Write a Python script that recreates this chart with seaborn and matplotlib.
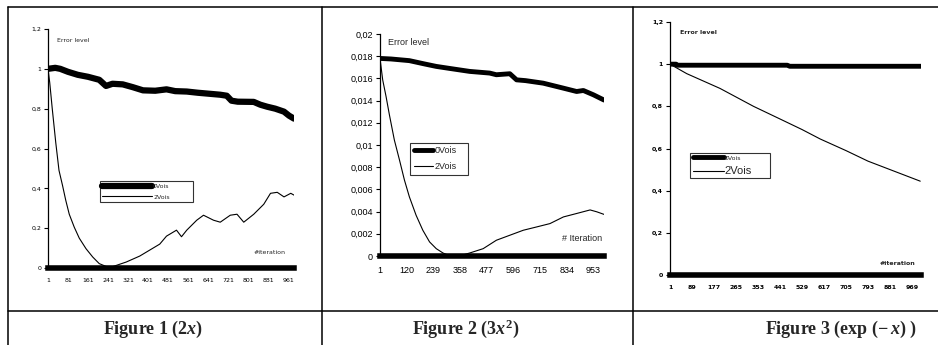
import matplotlib
matplotlib.use("Agg")
import matplotlib.pyplot as plt
import seaborn as sns
from matplotlib.lines import Line2D
from matplotlib.ticker import FuncFormatter

# ---- data ----
# Figure 1 (2x)
fig1_x_0vois = [1, 30, 50, 81, 120, 161, 206, 233, 259, 300, 340, 381, 430, 475, 510,
                556, 600, 636, 690, 716, 735, 760, 824, 850, 877, 910, 945, 965, 985]
fig1_y_0vois = [1.0, 1.005, 1.0, 0.985, 0.97, 0.96, 0.945, 0.914, 0.925, 0.922, 0.908,
                0.892, 0.89, 0.897, 0.888, 0.886, 0.88, 0.876, 0.87, 0.865, 0.84, 0.835,
                0.834, 0.82, 0.81, 0.8, 0.785, 0.765, 0.75]
fig1_x_2vois = [1, 8, 18, 32, 45, 59, 72, 86, 106, 126, 153, 180, 206, 233, 253, 274,
                314, 368, 408, 448, 475, 515, 535, 556, 596, 623, 663, 690, 730, 757,
                784, 824, 864, 891, 918, 945, 972, 985]
fig1_y_2vois = [1.0, 0.93, 0.8, 0.63, 0.49, 0.415, 0.34, 0.27, 0.205, 0.15, 0.097, 0.055,
                0.022, 0.008, 0.004, 0.013, 0.03, 0.06, 0.09, 0.12, 0.16, 0.19, 0.157,
                0.19, 0.24, 0.265, 0.24, 0.23, 0.265, 0.27, 0.23, 0.27, 0.32, 0.375,
                0.38, 0.357, 0.375, 0.366]
fig1_xticks = [1, 81, 161, 241, 321, 401, 481, 561, 641, 721, 801, 881, 961]
fig1_yticks = [0, 0.2, 0.4, 0.6, 0.8, 1.0, 1.2]

# Figure 2 (3x^2)
fig2_x_0vois = [1, 50, 132, 200, 252, 311, 401, 490, 520, 580, 610, 650, 729, 819, 878,
                908, 953, 1000]
fig2_y_0vois = [0.0178, 0.01775, 0.0176, 0.0173, 0.01708, 0.0169, 0.01663, 0.01648,
                0.01633, 0.01642, 0.01587, 0.0158, 0.01557, 0.01512, 0.01482, 0.01491,
                0.01452, 0.01405]
fig2_x_2vois = [1, 13, 28, 43, 65, 88, 110, 132, 162, 192, 222, 252, 282, 311, 341, 371,
                401, 461, 520, 580, 640, 700, 759, 819, 878, 938, 968, 1000]
fig2_y_2vois = [0.0178, 0.01587, 0.01437, 0.01271, 0.01045, 0.00864, 0.00684, 0.00533,
                0.00367, 0.00232, 0.00127, 0.00066, 0.00027, 0.00003, 0.0, 0.0001,
                0.00027, 0.00066, 0.00142, 0.00187, 0.00232, 0.00262, 0.00292, 0.00352,
                0.00383, 0.00415, 0.00398, 0.00375]
fig2_xticks = [1, 120, 239, 358, 477, 596, 715, 834, 953]
fig2_yticks = [0, 0.002, 0.004, 0.006, 0.008, 0.01, 0.012, 0.014, 0.016, 0.018, 0.02]

# Figure 3 (exp(-x))
fig3_x_0vois = [1, 25, 30, 470, 480, 1005]
fig3_y_0vois = [1.0, 1.0, 0.995, 0.995, 0.99, 0.99]
fig3_x_2vois = [1, 68, 201, 335, 441, 529, 602, 705, 793, 881, 969, 1002]
fig3_y_2vois = [1.0, 0.955, 0.885, 0.8, 0.74, 0.69, 0.645, 0.59, 0.54, 0.5, 0.46, 0.445]
fig3_xticks = [1, 89, 177, 265, 353, 441, 529, 617, 705, 793, 881, 969]
fig3_yticks = [0, 0.2, 0.4, 0.6, 0.8, 1.0, 1.2]

captions = [r"Figure 1 (2$x$)", r"Figure 2 (3$x^2$)", r"Figure 3 (exp ($-\,x$) )"]

# ---- style ----
sns.set_theme(style="white")
plt.rcParams["font.family"] = ["DejaVu Sans"]
plt.rcParams["mathtext.fontset"] = "custom"
plt.rcParams["mathtext.rm"] = "Liberation Serif:bold"
plt.rcParams["mathtext.it"] = "Liberation Serif:bold:italic"
plt.rcParams["mathtext.bf"] = "Liberation Serif:bold"

W, H = 938, 345
fig = plt.figure(figsize=(W / 100, H / 100), dpi=100)
fig.patch.set_facecolor("white")


def box(left, top, right, bottom):
    return [left / W, 1 - bottom / H, (right - left) / W, (bottom - top) / H]


comma = FuncFormatter(lambda v, p: f"{round(v, 6):g}".replace(".", ","))


def make_chart(rect, xs, ys, xticks, yticks, xlim, ylim, thick, font, fsize, weight,
               leg_anchor, leg_size, handlelen, err_pos, it_pos, it_label):
    ax = fig.add_axes(rect)
    sns.lineplot(x=xs[0], y=ys[0], ax=ax, color="black", lw=thick, label="0Vois",
                 legend=False, estimator=None, sort=False)
    sns.lineplot(x=xs[1], y=ys[1], ax=ax, color="black", lw=0.8, label="2Vois",
                 legend=False, estimator=None, sort=False)
    ax.set_xlim(*xlim)
    ax.set_ylim(*ylim)
    ax.set_xticks(xticks)
    ax.set_yticks(yticks)
    ax.yaxis.set_major_formatter(comma)
    ax.set_xlabel("")
    ax.set_ylabel("")
    for s in ["top", "right"]:
        ax.spines[s].set_visible(False)
    ax.spines["left"].set_linewidth(0.9)
    ax.spines["left"].set_color("black")
    ax.spines["bottom"].set_linewidth(4)
    ax.spines["bottom"].set_color("black")
    ax.tick_params(axis="y", left=True, length=3, width=0.8, color="black", pad=2,
                   labelsize=fsize)
    ax.tick_params(axis="x", bottom=True, length=0, pad=7, labelsize=fsize)
    for t in ax.get_xticklabels() + ax.get_yticklabels():
        t.set_fontfamily(font)
        t.set_fontweight(weight)
        t.set_color("black")
    ax.text(err_pos[0], err_pos[1], "Error level", transform=ax.transAxes,
            fontsize=fsize, family=font, fontweight=weight, va="center", ha="left")
    ax.text(it_pos[0], it_pos[1], it_label, transform=ax.transAxes,
            fontsize=fsize, family=font, fontweight=weight, va="center", ha="right")
    handles = [Line2D([], [], color="black", lw=thick), Line2D([], [], color="black", lw=0.8)]
    leg = ax.legend(handles, ["0Vois", "2Vois"], loc="lower left",
                    bbox_to_anchor=leg_anchor, mode="expand", fontsize=leg_size,
                    handlelength=handlelen, handletextpad=0.1, borderpad=0.4,
                    labelspacing=0.8, frameon=True, fancybox=False, borderaxespad=0)
    leg.get_frame().set_edgecolor("black")
    leg.get_frame().set_linewidth(0.8)
    for t in leg.get_texts():
        t.set_fontfamily(font)
    return ax, leg


ax1, leg1 = make_chart(box(48, 29, 294, 268), [fig1_x_0vois, fig1_x_2vois],
                       [fig1_y_0vois, fig1_y_2vois], fig1_xticks, fig1_yticks,
                       (1, 985), (0, 1.2), 4.5, "DejaVu Sans", 4.5, "normal",
                       (0.211, 0.276, 0.38, 0.14), 4.5, 8.0,
                       (0.035, 0.95), (0.965, 0.065), "#iteration")

ax2, leg2 = make_chart(box(380, 34, 604, 256), [fig2_x_0vois, fig2_x_2vois],
                       [fig2_y_0vois, fig2_y_2vois], fig2_xticks, fig2_yticks,
                       (1, 1000), (0, 0.02), 3.5, "Liberation Sans", 6.5, "normal",
                       (0.134, 0.365, 0.26, 0.17), 6.5, 2.2,
                       (0.036, 0.96), (0.99, 0.077), "# Iteration")

ax3, leg3 = make_chart(box(670, 22, 921, 275), [fig3_x_0vois, fig3_x_2vois],
                       [fig3_y_0vois, fig3_y_2vois], fig3_xticks, fig3_yticks,
                       (1, 1005), (0, 1.2), 3.5, "DejaVu Sans", 4.5, "bold",
                       (0.08, 0.383, 0.32, 0.11), 4.5, 5.0,
                       (0.04, 0.96), (0.976, 0.047), "#iteration")
leg3.get_texts()[1].set_fontfamily("Liberation Sans")
leg3.get_texts()[1].set_fontsize(8)
leg3.get_texts()[1].set_fontweight("normal")

# ---- table rules around the figures ----
rules = [((8, 7), (938, 7)), ((8, 7), (8, 345)), ((322, 7), (322, 345)),
         ((633, 7), (633, 345)), ((8, 311), (938, 311))]
for (x0, y0), (x1, y1) in rules:
    fig.add_artist(Line2D([x0 / W, x1 / W], [1 - y0 / H, 1 - y1 / H],
                          transform=fig.transFigure, color="black", lw=1.1))

for cx, cap in zip([153, 466, 841], captions):
    fig.text(cx / W, 1 - 329 / H, cap, ha="center", va="center", fontsize=13,
             family="Liberation Serif", fontweight="bold")

fig.savefig("out.png", dpi=100)
